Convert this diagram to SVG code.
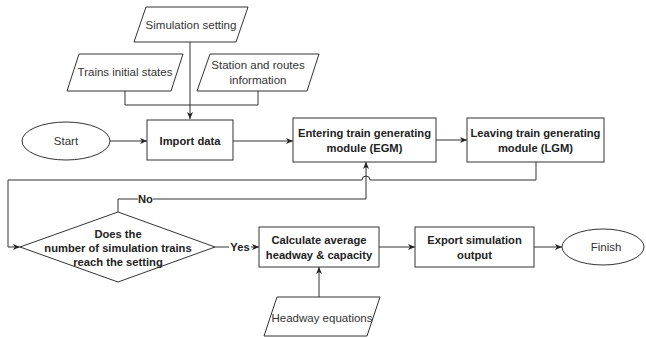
<svg xmlns="http://www.w3.org/2000/svg" width="646" height="338" viewBox="0 0 646 338">
<defs>
<marker id="arr" markerWidth="8" markerHeight="8" refX="7" refY="4" orient="auto" markerUnits="userSpaceOnUse">
<path d="M0,1 L7,4 L0,7 L2,4 Z" fill="#222"/>
</marker>
</defs>
<style>
.s{fill:#fff;stroke:#333;stroke-width:1}
.t{font-family:"Liberation Sans",Arial,sans-serif;font-size:11.5px;fill:#333;text-anchor:middle}
.b{font-family:"Liberation Sans",Arial,sans-serif;font-size:11.2px;font-weight:bold;fill:#222;text-anchor:middle}
.c{fill:none;stroke:#333;stroke-width:1}
</style>
<rect width="646" height="338" fill="#fff"/>
<g id="connectors">
<path class="c" d="M190,42 V119" marker-end="url(#arr)"/>
<path class="c" d="M125,91 V105 H258 V91"/>
<path class="c" d="M110,141 H147" marker-end="url(#arr)"/>
<path class="c" d="M233,141 H293" marker-end="url(#arr)"/>
<path class="c" d="M436,140 H467" marker-end="url(#arr)"/>
<path class="c" d="M536,162 V180 H370 A4,4 0 0 0 362,180 H8 V247 H20" marker-end="url(#arr)"/>
<path class="c" d="M118,212 V199 H138 M153,199 H366 V162" marker-end="url(#arr)"/>
<text class="b" x="145.5" y="203">No</text>
<path class="c" d="M215,247 H229 M251,247 H259" marker-end="url(#arr)"/>
<text class="b" x="240" y="251">Yes</text>
<path class="c" d="M379,247 H415" marker-end="url(#arr)"/>
<path class="c" d="M534,247 H562" marker-end="url(#arr)"/>
<path class="c" d="M319,297 V267" marker-end="url(#arr)"/>
</g>
<g id="sim-setting">
<path class="s" d="M146,7 H248 L236,42 H134 Z"/>
<text class="t" x="191" y="29">Simulation setting</text>
</g>
<g id="trains-initial">
<path class="s" d="M79,54 H183 L171,91 H67 Z"/>
<text class="t" x="125" y="76">Trains initial states</text>
</g>
<g id="station-routes">
<path class="s" d="M210,54 H319 L307,91 H197 Z"/>
<text class="t" x="258" y="69">Station and routes</text>
<text class="t" x="258" y="84">information</text>
</g>
<g id="start">
<ellipse class="s" cx="66" cy="141" rx="44" ry="19"/>
<text class="t" x="66" y="145">Start</text>
</g>
<g id="import">
<rect class="s" x="147" y="120" width="86" height="40"/>
<text class="b" x="190" y="145">Import data</text>
</g>
<g id="egm">
<rect class="s" x="293" y="118" width="143" height="44"/>
<text class="b" x="364.5" y="137">Entering train generating</text>
<text class="b" x="364.5" y="152">module (EGM)</text>
</g>
<g id="lgm">
<rect class="s" x="467" y="118" width="137" height="44"/>
<text class="b" x="535.5" y="137">Leaving train generating</text>
<text class="b" x="535.5" y="152">module (LGM)</text>
</g>
<g id="decision">
<path class="s" d="M20,247 L118,212 L215,247 L118,282 Z"/>
<text class="b" x="118" y="238">Does the</text>
<text class="b" x="118" y="252">number of simulation trains</text>
<text class="b" x="118" y="266">reach the setting</text>
</g>
<g id="calc">
<rect class="s" x="259" y="227" width="120" height="40"/>
<text class="b" x="319" y="244">Calculate average</text>
<text class="b" x="319" y="259">headway &amp; capacity</text>
</g>
<g id="export">
<rect class="s" x="415" y="227" width="119" height="40"/>
<text class="b" x="474.5" y="244">Export simulation</text>
<text class="b" x="474.5" y="259">output</text>
</g>
<g id="finish">
<ellipse class="s" cx="603" cy="247" rx="41" ry="18"/>
<text class="t" x="606" y="251">Finish</text>
</g>
<g id="headway-eq">
<path class="s" d="M277,297 H380 L367,336 H264 Z"/>
<text class="t" x="322" y="322">Headway equations</text>
</g>
</svg>
